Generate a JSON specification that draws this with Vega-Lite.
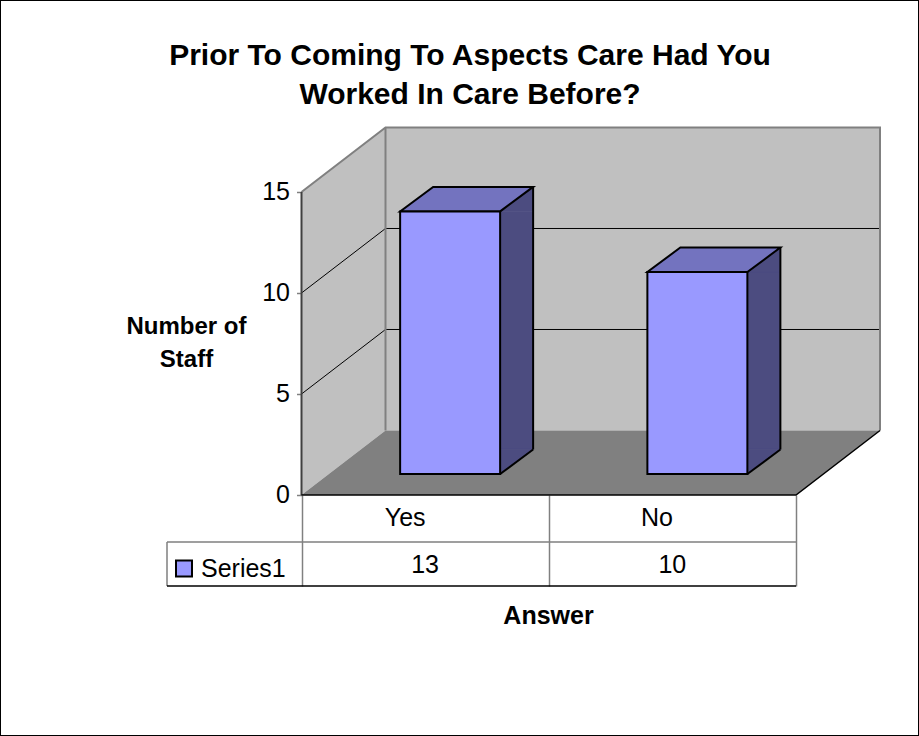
{
  "$schema": "https://vega.github.io/schema/vega-lite/v6.json",
  "width": 919,
  "height": 736,
  "autosize": {"type": "none"},
  "padding": 0,
  "background": "white",
  "config": {"font": "Liberation Sans", "view": {"stroke": "#000", "strokeWidth": 2}},
  "title": {
    "text": ["Prior To Coming To Aspects Care Had You", "Worked In Care Before?"],
    "font": "Liberation Sans", "fontSize": 30, "fontWeight": "bold", "color": "#000",
    "anchor": "middle", "frame": "group", "baseline": "bottom", "lineHeight": 39.5,
    "offset": -140, "dx": 10.5
  },
  "data": {"values": [
    {"Answer": "Yes", "Count": 13, "series": "Series1"},
    {"Answer": "No", "Count": 10, "series": "Series1"}
  ]},
  "layer": [
    {
      "data": {"values": [{}]},
      "mark": {"type": "point", "shape": "M84,-64.5L578.5,-64.5L578.5,-367.5L84,-367.5Z", "size": 4, "filled": true, "fill": "#c0c0c0", "opacity": 1, "strokeWidth": 0},
      "encoding": {
        "x": {"datum": "Yes", "type": "nominal", "bandPosition": 0},
        "y": {"datum": 0, "type": "quantitative"}
      }
    },
    {
      "data": {"values": [{}]},
      "mark": {"type": "point", "shape": "M0,0L0,-303L84,-367.5L84,-64.5Z", "size": 4, "filled": true, "fill": "#c0c0c0", "opacity": 1, "strokeWidth": 0},
      "encoding": {
        "x": {"datum": "Yes", "type": "nominal", "bandPosition": 0},
        "y": {"datum": 0, "type": "quantitative"}
      }
    },
    {
      "data": {"values": [{}]},
      "mark": {"type": "point", "shape": "M0,0L494.5,0L578.5,-64.5L84,-64.5Z", "size": 4, "filled": true, "fill": "#808080", "opacity": 1, "strokeWidth": 0},
      "encoding": {
        "x": {"datum": "Yes", "type": "nominal", "bandPosition": 0},
        "y": {"datum": 0, "type": "quantitative"}
      }
    },
    {
      "data": {"values": [{"g": 5}, {"g": 10}]},
      "mark": {"type": "point", "shape": "M0,0L84,-64.5L578.5,-64.5", "size": 4, "filled": false, "fill": "transparent", "stroke": "#000", "strokeWidth": 1, "opacity": 1},
      "encoding": {
        "x": {"datum": "Yes", "type": "nominal", "bandPosition": 0},
        "y": {"field": "g", "type": "quantitative"}
      }
    },
    {
      "data": {"values": [{}]},
      "mark": {"type": "point", "shape": "M0,-303L84,-367.5L578.5,-367.5L578.5,-64.5M84,-367.5L84,-64.5", "size": 4, "filled": false, "fill": "transparent", "stroke": "#808080", "strokeWidth": 2, "opacity": 1},
      "encoding": {
        "x": {"datum": "Yes", "type": "nominal", "bandPosition": 0},
        "y": {"datum": 0, "type": "quantitative"}
      }
    },
    {
      "data": {"values": [{}]},
      "mark": {"type": "point", "shape": "M0,0L0,-303", "size": 4, "filled": false, "fill": "transparent", "stroke": "#404040", "strokeWidth": 2, "opacity": 1},
      "encoding": {
        "x": {"datum": "Yes", "type": "nominal", "bandPosition": 0},
        "y": {"datum": 0, "type": "quantitative"}
      }
    },
    {
      "data": {"values": [{}]},
      "mark": {"type": "point", "shape": "M0,0L494.5,0L578.5,-64.5", "size": 4, "filled": false, "fill": "transparent", "stroke": "#000", "strokeWidth": 1.5, "opacity": 1},
      "encoding": {
        "x": {"datum": "Yes", "type": "nominal", "bandPosition": 0},
        "y": {"datum": 0, "type": "quantitative"}
      }
    },
    {
      "data": {"values": [{}]},
      "mark": {"type": "point", "shape": "M-134.5,47L494.5,47M-134.5,47L-134.5,91", "size": 4, "filled": false, "fill": "transparent", "stroke": "#808080", "strokeWidth": 1.5, "opacity": 1},
      "encoding": {
        "x": {"datum": "Yes", "type": "nominal", "bandPosition": 0},
        "y": {"datum": 0, "type": "quantitative"}
      }
    },
    {
      "data": {"values": [{}]},
      "mark": {"type": "point", "shape": "M-134.5,91L494.5,91", "size": 4, "filled": false, "fill": "transparent", "stroke": "#000", "strokeWidth": 1.5, "opacity": 1},
      "encoding": {
        "x": {"datum": "Yes", "type": "nominal", "bandPosition": 0},
        "y": {"datum": 0, "type": "quantitative"}
      }
    },
    {
      "mark": {"type": "bar", "width": 33, "xOffset": 91.5, "yOffset": -21, "y2Offset": -45.5, "fill": "#4c4c80", "stroke": "#4c4c80", "strokeWidth": 0.5},
      "encoding": {
        "x": {"field": "Answer", "type": "nominal"},
        "y": {"field": "Count", "type": "quantitative"},
        "y2": {"datum": 0}
      }
    },
    {
      "mark": {"type": "point", "shape": "M50,0L83,-24.5L83,0Z", "size": 4, "filled": true, "fill": "#4c4c80", "stroke": "#4c4c80", "strokeWidth": 0.5, "opacity": 1, "xOffset": 25, "yOffset": -21},
      "encoding": {
        "x": {"field": "Answer", "type": "nominal"},
        "y": {"field": "Count", "type": "quantitative"}
      }
    },
    {
      "mark": {"type": "point", "shape": "M50,0L50,-24.5L83,-24.5Z", "size": 4, "filled": true, "fill": "#4c4c80", "stroke": "#4c4c80", "strokeWidth": 0.5, "opacity": 1, "xOffset": 25, "yOffset": -21},
      "encoding": {
        "x": {"field": "Answer", "type": "nominal"},
        "y": {"datum": 0, "type": "quantitative"}
      }
    },
    {
      "mark": {"type": "rule", "stroke": "#000", "strokeWidth": 2, "xOffset": 108, "yOffset": -45.5, "y2Offset": -45.5},
      "encoding": {
        "x": {"field": "Answer", "type": "nominal"},
        "y": {"field": "Count", "type": "quantitative"},
        "y2": {"datum": 0}
      }
    },
    {
      "mark": {"type": "point", "shape": "M50,0L83,-24.5", "size": 4, "filled": false, "fill": "transparent", "stroke": "#000", "strokeWidth": 2, "opacity": 1, "xOffset": 25, "yOffset": -21},
      "encoding": {
        "x": {"field": "Answer", "type": "nominal"},
        "y": {"datum": 0, "type": "quantitative"}
      }
    },
    {
      "mark": {"type": "point", "shape": "M-50,0L50,0L83,-24.5L-17,-24.5Z", "size": 4, "filled": true, "fill": "#7373bf", "stroke": "#000", "strokeWidth": 2, "opacity": 1, "xOffset": 25, "yOffset": -21},
      "encoding": {
        "x": {"field": "Answer", "type": "nominal"},
        "y": {"field": "Count", "type": "quantitative"}
      }
    },
    {
      "mark": {"type": "bar", "width": 100, "xOffset": 25, "yOffset": -21, "y2Offset": -21, "stroke": "#000", "strokeWidth": 2},
      "encoding": {
        "x": {
          "field": "Answer", "type": "nominal",
          "scale": {"type": "band", "domain": ["Yes", "No"], "paddingInner": 0, "paddingOuter": 0.85845, "align": 0.71025},
          "axis": {
            "orient": "bottom", "offset": -241, "domain": false, "grid": false, "ticks": true,
            "tickBand": "extent", "tickSize": 91, "tickColor": "#808080", "tickWidth": 1.5,
            "labelFontSize": 25, "labelColor": "#000", "labelAngle": 0, "labelBaseline": "middle", "labelPadding": -68.5,
            "title": "Answer", "titleFontSize": 25, "titleFontWeight": "bold", "titleColor": "#000",
            "titleX": 548, "titleY": 128, "titleBaseline": "alphabetic", "titleAlign": "center"
          }
        },
        "y": {
          "field": "Count", "type": "quantitative",
          "scale": {"domain": [-11.931, 24.505], "nice": false, "zero": false},
          "axis": {
            "orient": "left", "offset": -301.5, "values": [0, 5, 10, 15], "domain": false, "grid": false,
            "tickSize": 5, "tickColor": "#808080", "tickWidth": 1.5,
            "labelFontSize": 25, "labelColor": "#000", "labelPadding": 7,
            "title": ["Number of", "Staff"], "titleFontSize": 24, "titleFontWeight": "bold", "titleColor": "#000",
            "titleAngle": 0, "titleX": -115.5, "titleY": 326, "titleBaseline": "middle", "titleAlign": "center", "titleLineHeight": 33
          }
        },
        "y2": {"datum": 0},
        "fill": {
          "field": "series", "type": "nominal",
          "scale": {"range": ["#9999ff"]},
          "legend": {
            "orient": "none", "legendX": 171.5, "legendY": 556, "title": null,
            "symbolType": "square", "symbolSize": 256, "symbolStrokeColor": "#000", "symbolStrokeWidth": 2,
            "labelFontSize": 25, "labelFont": "Liberation Sans", "labelColor": "#000", "labelOffset": 4.5,
            "padding": 0, "symbolOffset": 0
          }
        }
      }
    },
    {
      "mark": {"type": "text", "fontSize": 25, "baseline": "alphabetic", "yOffset": 78, "color": "#000"},
      "encoding": {
        "x": {"field": "Answer", "type": "nominal"},
        "y": {"datum": 0, "type": "quantitative"},
        "text": {"field": "Count", "type": "quantitative"}
      }
    }
  ]
}
